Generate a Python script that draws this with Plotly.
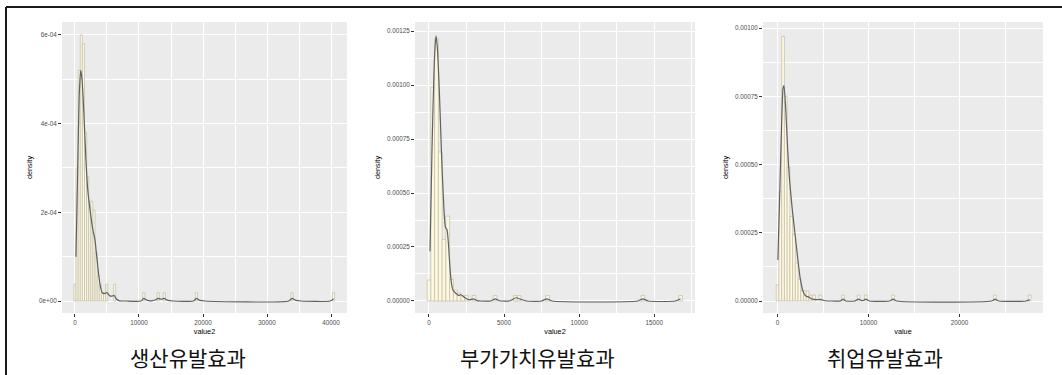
import plotly.graph_objects as go

# ---------------- data ----------------
# Panel 1: 생산유발효과 (x: value2)
p1_bw = 330
p1_hist_x = [0, 330, 660, 990, 1320, 1650, 1980, 2310, 2640, 2970, 3300, 3630, 3960, 4290, 4620, 4950, 6200,
             10750, 13000, 13950, 18980, 33900, 40400]
p1_hist_y = [3.8e-5, 3.0e-4, 5.2e-4, 6.0e-4, 5.8e-4, 3.8e-4, 2.8e-4, 2.25e-4, 2.25e-4, 2.05e-4, 1.1e-4, 5.7e-5,
             3.8e-5, 1.9e-5, 1.9e-5, 3.8e-5, 3.8e-5,
             1.9e-5, 1.9e-5, 1.9e-5, 1.9e-5, 1.9e-5, 1.9e-5]
p1_dens_x = [150, 400, 650, 900, 1100, 1400, 1700, 2000, 2400, 2800, 3100, 3400, 3700, 4000, 4300, 4700, 5000,
             5400, 5800, 6100, 6500, 7000, 8000, 10300, 10750, 11200, 12000, 12600, 13000, 13500, 13950, 14400,
             15300, 18500, 18980, 19400, 20300, 33400, 33900, 34400, 35300, 39900, 40400]
p1_dens_y = [1.0e-4, 2.8e-4, 4.6e-4, 5.2e-4, 5.0e-4, 4.2e-4, 3.2e-4, 2.5e-4, 2.0e-4, 1.6e-4, 1.4e-4, 1.0e-4,
             6.0e-5, 3.0e-5, 1.8e-5, 1.7e-5, 1.9e-5, 1.2e-5, 1.1e-5, 1.3e-5, 4e-6, 5e-7, 0, 0, 6e-6, 2e-6,
             5e-7, 3e-6, 6e-6, 4e-6, 6e-6, 2e-6, 0, 0, 6e-6, 2e-6, 0, 0, 6e-6, 2e-6, 0, 0, 5e-6]
p1_xticks = [0, 10000, 20000, 30000, 40000]
p1_yticks = [0, 2e-4, 4e-4, 6e-4]
p1_ytext = ["0e+00", "2e-04", "4e-04", "6e-04"]

# Panel 2: 부가가치유발효과 (x: value2)
p2_bw = 250
p2_hist_x = [0, 250, 500, 750, 1000, 1250, 1500, 1750, 2000, 2250, 2500, 3000, 4400, 5750, 6000, 7900, 14250, 16750]
p2_hist_y = [9.7e-5, 9.9e-4, 1.215e-3, 6.9e-4, 2.85e-4, 3.93e-4, 1.0e-4, 5.0e-5, 3.7e-5, 2.5e-5, 2.5e-5, 2.5e-5,
             2.5e-5, 2.5e-5, 2.5e-5, 2.5e-5, 2.5e-5, 2.5e-5]
p2_dens_x = [67, 200, 350, 466, 550, 700, 850, 1000, 1100, 1200, 1300, 1400, 1500, 1600, 1800, 2000, 2100, 2300,
             2500, 2700, 2950, 3200, 3500, 4100, 4400, 4700, 5400, 5800, 6100, 6500, 7500, 7850, 8200, 13900,
             14250, 14600, 16400, 16750]
p2_dens_y = [2.3e-4, 7.0e-4, 1.1e-3, 1.227e-3, 1.18e-3, 9.5e-4, 6.5e-4, 4.2e-4, 3.4e-4, 3.3e-4, 2.6e-4, 1.5e-4,
             8e-5, 5e-5, 3.5e-5, 2.5e-5, 3.0e-5, 2.0e-5, 1.0e-5, 5e-6, 1.0e-5, 2e-6, 0, 0, 1.0e-5, 1e-6, 1e-6,
             1.5e-5, 8e-6, 0, 0, 1.0e-5, 0, 0, 1.0e-5, 0, 0, 1.0e-5]
p2_xticks = [0, 5000, 10000, 15000]
p2_yticks = [0, 0.00025, 0.0005, 0.00075, 0.001, 0.00125]
p2_ytext = ["0.00000", "0.00025", "0.00050", "0.00075", "0.00100", "0.00125"]

# Panel 3: 취업유발효과 (x: value)
p3_bw = 300
p3_hist_x = [0, 300, 600, 900, 1200, 1500, 1800, 2100, 2400, 2700, 3000, 3300, 3600, 4000, 4700,
             7200, 8900, 9700, 12700, 23900, 27700]
p3_hist_y = [5.9e-5, 4.0e-4, 9.7e-4, 7.5e-4, 4.9e-4, 3.1e-4, 2.44e-4, 1.4e-4, 8e-5, 3.7e-5, 3.7e-5, 3.7e-5,
             2.2e-5, 2.2e-5, 2.2e-5, 2.2e-5, 2.2e-5, 2.2e-5, 2.2e-5, 2.2e-5, 2.2e-5]
p3_dens_x = [30, 200, 400, 600, 700, 900, 1100, 1300, 1600, 1900, 2200, 2500, 2800, 3100, 3400, 3700, 4000,
             4400, 4700, 5200, 6000, 6900, 7200, 7500, 8500, 8900, 9300, 9700, 10100, 12300, 12700, 13100,
             23500, 23900, 24300, 27300, 27700]
p3_dens_y = [1.5e-4, 3.5e-4, 6.0e-4, 7.8e-4, 7.9e-4, 7.0e-4, 5.6e-4, 4.5e-4, 3.4e-4, 2.5e-4, 1.6e-4, 8e-5,
             3.5e-5, 1.8e-5, 1.5e-5, 8e-6, 6e-6, 5e-6, 6e-6, 1e-6, 0, 0, 7e-6, 0, 0, 7e-6, 1e-6, 7e-6, 0, 0,
             7e-6, 0, 0, 7e-6, 0, 0, 5e-6]
p3_xticks = [0, 10000, 20000]
p3_yticks = [0, 0.00025, 0.0005, 0.00075, 0.001]
p3_ytext = ["0.00000", "0.00025", "0.00050", "0.00075", "0.00100"]

captions = ["생산유발효과", "부가가치유발효과", "취업유발효과"]
x_titles = ["value2", "value2", "value"]

# ---------------- layout geometry ----------------
W, H = 1062, 375
panels = [
    dict(hx=p1_hist_x, hy=p1_hist_y, bw=p1_bw, dx=p1_dens_x, dy=p1_dens_y, xt=p1_xticks, yt=p1_yticks, ytt=p1_ytext,
         px=(62, 347), xr=(-2030, 42500), yr=(-2.7e-5, 6.29e-4), cx=188),
    dict(hx=p2_hist_x, hy=p2_hist_y, bw=p2_bw, dx=p2_dens_x, dy=p2_dens_y, xt=p2_xticks, yt=p2_yticks, ytt=p2_ytext,
         px=(415, 695), xr=(-932, 17715), yr=(-5.56e-5, 1.2917e-3), cx=537),
    dict(hx=p3_hist_x, hy=p3_hist_y, bw=p3_bw, dx=p3_dens_x, dy=p3_dens_y, xt=p3_xticks, yt=p3_yticks, ytt=p3_ytext,
         px=(763, 1043), xr=(-1604, 29165), yr=(-4.4e-5, 1.0228e-3), cx=885),
]
py = (22, 313)

fig = go.Figure()
layout = {}
tick_font = dict(family="Liberation Sans, Arial", size=6.3, color="#4D4D4D")
title_font = dict(family="Liberation Sans, Arial", size=7.3, color="#000000")

for i, p in enumerate(panels):
    n = "" if i == 0 else str(i + 1)
    xa, ya = "x" + n, "y" + n
    fig.add_trace(go.Bar(x=p["hx"], y=p["hy"], width=p["bw"], xaxis=xa, yaxis=ya,
                         marker=dict(color="#FFF8DC", line=dict(color="#BDBDB0", width=0.7)),
                         showlegend=False, hoverinfo="skip"))
    fig.add_trace(go.Scatter(x=p["dx"], y=p["dy"], mode="lines", xaxis=xa, yaxis=ya,
                             line=dict(color="#616161", width=1.2, shape="spline", smoothing=0.6),
                             showlegend=False, hoverinfo="skip"))
    xt = p["xt"]
    xstep = xt[1] - xt[0]
    yt = p["yt"]
    ystep = yt[1] - yt[0]
    xminor = [v + xstep / 2 for v in [xt[0] - xstep] + xt]
    yminor = [v + ystep / 2 for v in yt]
    layout["xaxis" + n] = dict(
        domain=[p["px"][0] / W, p["px"][1] / W], anchor=ya, range=list(p["xr"]),
        tickvals=xt, ticktext=[str(v) for v in xt], ticks="outside", ticklen=3, tickwidth=0.8,
        tickcolor="#333333", tickfont=tick_font, showgrid=True, gridcolor="white", gridwidth=1.1,
        zeroline=False, showline=False,
        minor=dict(tickvals=xminor, showgrid=True, gridcolor="white", gridwidth=0.5, ticks=""),
        title=dict(text=x_titles[i], font=title_font, standoff=4))
    layout["yaxis" + n] = dict(
        domain=[1 - py[1] / H, 1 - py[0] / H], anchor=xa, range=list(p["yr"]),
        tickvals=yt, ticktext=p["ytt"], ticks="outside", ticklen=3, tickwidth=0.8,
        tickcolor="#333333", tickfont=tick_font, showgrid=True, gridcolor="white", gridwidth=1.1,
        zeroline=False, showline=False,
        minor=dict(tickvals=yminor, showgrid=True, gridcolor="white", gridwidth=0.5, ticks=""),
        title=dict(text="density", font=title_font, standoff=5))

annotations = []
for i, p in enumerate(panels):
    annotations.append(dict(text=captions[i], xref="paper", yref="paper",
                            x=p["cx"] / W, y=1 - 357 / H,
                            xanchor="center", yanchor="middle", showarrow=False,
                            font=dict(family="Noto Sans CJK KR", size=21, color="#111111")))

shapes = [
    dict(type="line", xref="paper", yref="paper", x0=6 / W, x1=1, y0=1 - 7 / H, y1=1 - 7 / H,
         line=dict(color="#1A1A1A", width=2)),
    dict(type="line", xref="paper", yref="paper", x0=6 / W, x1=6 / W, y0=0, y1=1 - 7 / H,
         line=dict(color="#1A1A1A", width=2)),
]

fig.update_layout(width=W, height=H, autosize=False, margin=dict(l=0, r=0, t=0, b=0),
                  plot_bgcolor="#EBEBEB", paper_bgcolor="white", barmode="overlay",
                  annotations=annotations, shapes=shapes, **layout)

fig.write_html("out.html", config={"displayModeBar": False},
               post_script="document.body.style.margin='0';document.body.style.overflow='hidden';")
